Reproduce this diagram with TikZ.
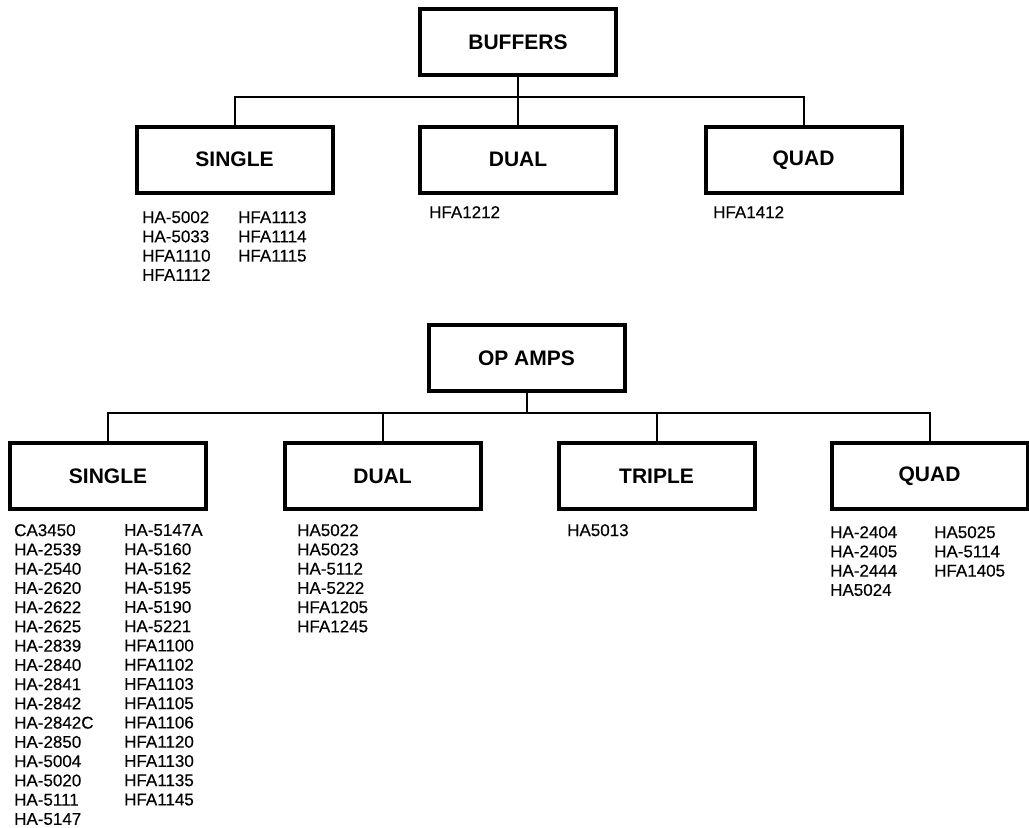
\documentclass[tikz,border=0pt]{standalone}
\usepackage{fontspec}
\setmainfont{Liberation Sans}
\newfontfamily\listfont[FakeBold=0.35]{Liberation Sans}
\begin{document}
\begin{tikzpicture}[x=1pt,y=-1pt,
  catbox/.style={draw=black,line width=4pt,minimum width=196pt,minimum height=66pt,inner sep=0pt,font=\fontsize{21}{24}\selectfont\bfseries},
  conn/.style={line width=2pt},
  partlist/.style={anchor=north west,inner sep=0pt,align=left,font=\listfont\fontsize{17}{19.25}\selectfont}]
\useasboundingbox (0,0) rectangle (1029,828);
% Buffers
\node[catbox] (buf) at (518,42) {BUFFERS};
\node[catbox] (bsgl) at (234.5,159.5) {SINGLE};
\node[catbox] (bdual) at (518,159.5) {DUAL};
\node[catbox] (bquad) at (803.5,160) {QUAD};
\coordinate (jb) at (518,97);
\draw[conn] (buf.south) -- (jb);
\draw[conn] (bsgl.north) |- (jb) -| (bquad.north);
\draw[conn] (bdual.north) -- (jb);
\node[partlist] (bsl1) at (142,211) {HA-5002\\HA-5033\\HFA1110\\HFA1112};
\node[partlist] (bsl2) at (238,211) {HFA1113\\HFA1114\\HFA1115};
\node[partlist] (bdl) at (429,206) {HFA1212};
\node[partlist] (bql) at (713,206) {HFA1412};
% Op amps
\node[catbox] (op) at (526.5,358) {OP AMPS};
\node[catbox] (osgl) at (108,476) {SINGLE};
\node[catbox] (odual) at (382.5,476) {DUAL};
\node[catbox] (otri) at (656.5,476) {TRIPLE};
\node[catbox] (oquad) at (929.5,476) {QUAD};
\coordinate (jo) at (526.5,413);
\draw[conn] (op.south) -- (jo);
\draw[conn] (osgl.north) |- (jo) -| (oquad.north);
\draw[conn] (odual.north) -- (odual.north |- jo);
\draw[conn] (otri.north) -- (otri.north |- jo);
\node[partlist] (osl1) at (14,524) {CA3450\\HA-2539\\HA-2540\\HA-2620\\HA-2622\\HA-2625\\HA-2839\\HA-2840\\HA-2841\\HA-2842\\HA-2842C\\HA-2850\\HA-5004\\HA-5020\\HA-5111\\HA-5147};
\node[partlist] (osl2) at (124,524) {HA-5147A\\HA-5160\\HA-5162\\HA-5195\\HA-5190\\HA-5221\\HFA1100\\HFA1102\\HFA1103\\HFA1105\\HFA1106\\HFA1120\\HFA1130\\HFA1135\\HFA1145};
\node[partlist] (odl) at (297,524) {HA5022\\HA5023\\HA-5112\\HA-5222\\HFA1205\\HFA1245};
\node[partlist] (otl) at (567,524) {HA5013};
\node[partlist] (oql1) at (830,526) {HA-2404\\HA-2405\\HA-2444\\HA5024};
\node[partlist] (oql2) at (934,526) {HA5025\\HA-5114\\HFA1405};
\end{tikzpicture}
\end{document}
